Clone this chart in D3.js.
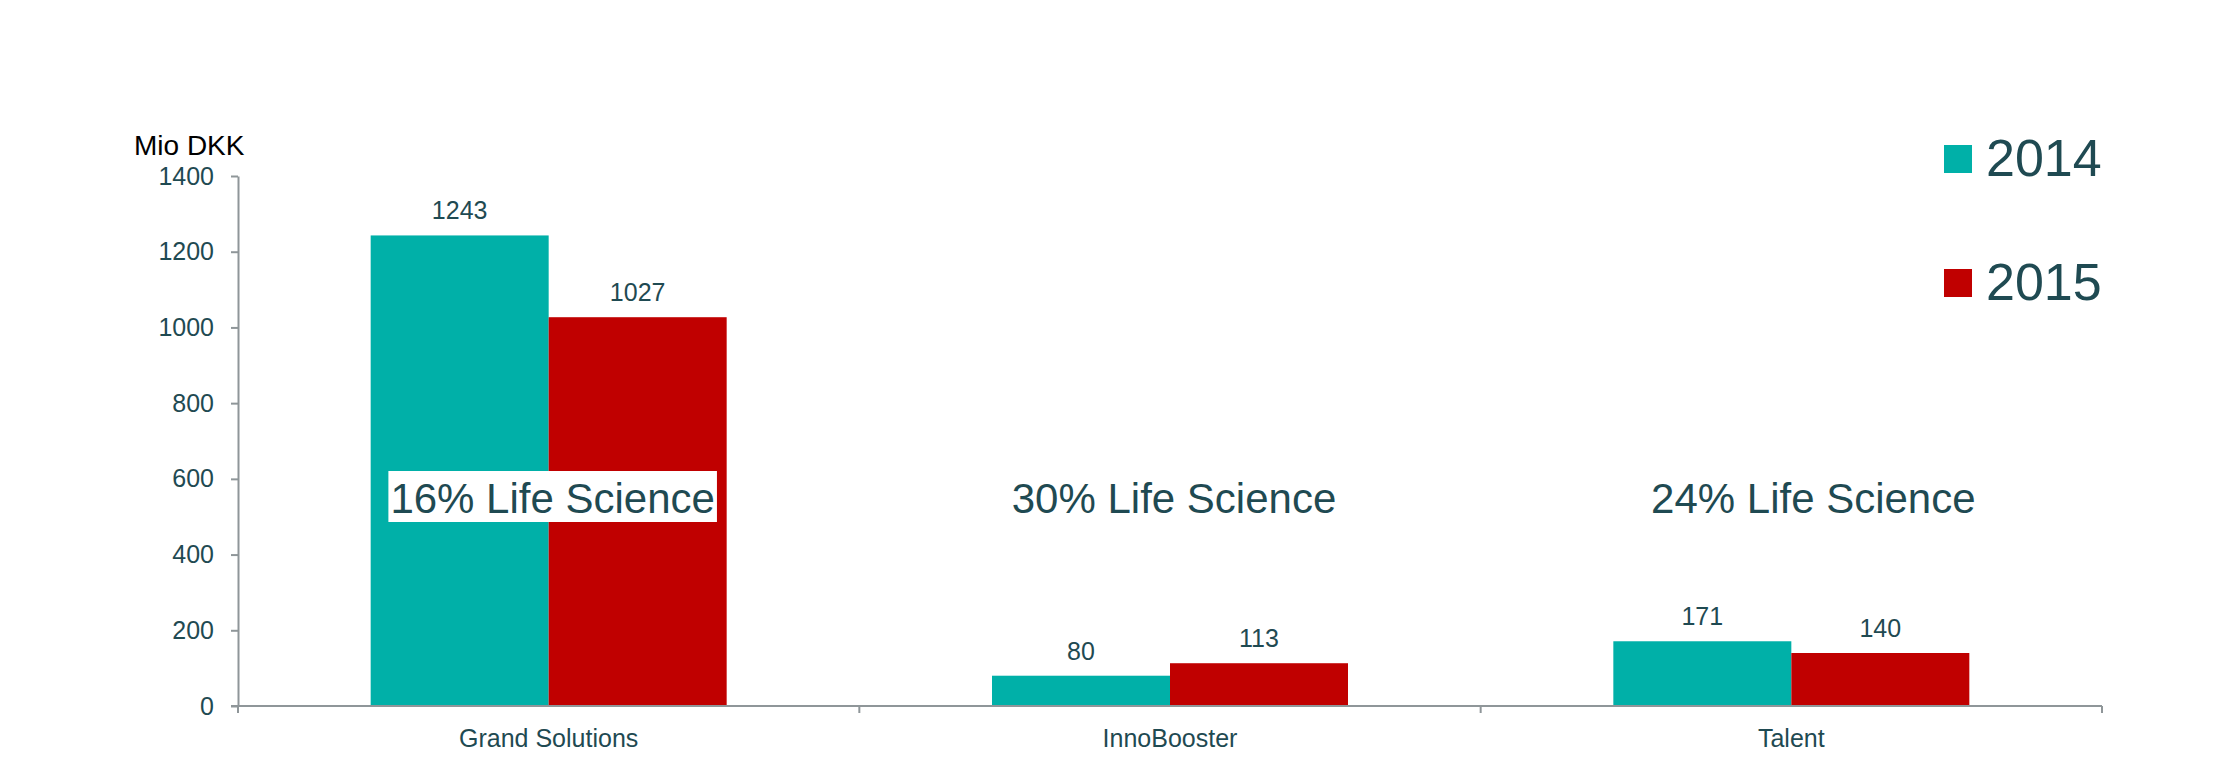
<!DOCTYPE html>
<html>
<head>
<meta charset="utf-8">
<script src="https://cdn.jsdelivr.net/npm/d3@7"></script>
<style>
  html, body { margin: 0; padding: 0; background: #fff; }
  svg { display: block; font-family: "Liberation Sans", Arial, sans-serif; }
</style>
</head>
<body>
<svg id="chart" width="2223" height="782"></svg>
<script>
const categories = ["Grand Solutions", "InnoBooster", "Talent"];
const seriesNames = ["2014", "2015"];
const values2014 = [1243, 80, 171];
const values2015 = [1027, 113, 140];
const lifeScienceLabels = ["16% Life Science", "30% Life Science", "24% Life Science"];
const yTicks = [0, 200, 400, 600, 800, 1000, 1200, 1400];
const colors = ["#00B0A8", "#C00000"];

const textColor = "#1F4A52";
const axisColor = "#8F9699";

const svg = d3.select("#chart");
const plotLeft = 238, plotRight = 2102, plotTop = 176, plotBottom = 706;
const labelShift = [4, 4, 22];

const x = d3.scaleBand().domain(categories).range([plotLeft, plotRight]).padding(0);
const y = d3.scaleLinear().domain([0, 1400]).range([plotBottom, plotTop]);
const barW = 178;
const inner = d3.scaleBand().domain(seriesNames).range([-barW, barW]).padding(0);

const seriesValues = [values2014, values2015];

// bars
seriesNames.forEach((s, si) => {
  svg.append("g").selectAll("rect")
    .data(categories)
    .join("rect")
    .attr("x", (c) => x(c) + x.bandwidth() / 2 + inner(s))
    .attr("y", (c, i) => y(seriesValues[si][i]))
    .attr("width", inner.bandwidth())
    .attr("height", (c, i) => y(0) - y(seriesValues[si][i]))
    .attr("fill", colors[si]);
  svg.append("g").selectAll("text")
    .data(categories)
    .join("text")
    .attr("x", (c) => x(c) + x.bandwidth() / 2 + inner(s) + inner.bandwidth() / 2)
    .attr("y", (c, i) => y(seriesValues[si][i]) - 16)
    .attr("text-anchor", "middle")
    .attr("font-size", 25)
    .attr("fill", textColor)
    .text((c, i) => seriesValues[si][i]);
});

// y axis
const yAxis = d3.axisLeft(y).tickValues(yTicks).tickFormat(d3.format("d"))
  .tickSize(7).tickPadding(17).tickSizeOuter(0);
const gy = svg.append("g").attr("transform", `translate(${plotLeft},0)`).call(yAxis);
gy.select(".domain").attr("stroke", axisColor).attr("stroke-width", 2);
gy.selectAll(".tick line").attr("stroke", axisColor).attr("stroke-width", 2);
gy.selectAll(".tick text").attr("font-size", 25).attr("fill", textColor)
  .attr("font-family", "Liberation Sans, Arial, sans-serif");

// x axis
const gx = svg.append("g").attr("transform", `translate(0,${plotBottom})`);
gx.append("line").attr("x1", plotLeft - 7).attr("x2", plotRight).attr("y1", 0).attr("y2", 0)
  .attr("stroke", axisColor).attr("stroke-width", 2);
const boundaries = categories.map(c => x(c)).concat([plotRight]);
gx.selectAll("line.b").data(boundaries).join("line").attr("class", "b")
  .attr("x1", d => d).attr("x2", d => d).attr("y1", 0).attr("y2", 7)
  .attr("stroke", axisColor).attr("stroke-width", 2);
gx.selectAll("text").data(categories).join("text")
  .attr("x", c => x(c) + x.bandwidth() / 2)
  .attr("y", 41)
  .attr("text-anchor", "middle")
  .attr("font-size", 25)
  .attr("fill", textColor)
  .text(c => c);

// y axis title
svg.append("text").attr("x", 134).attr("y", 155)
  .attr("font-size", 28).attr("fill", "#000").text("Mio DKK");

// life science labels
categories.forEach((c, i) => {
  const cx = x(c) + x.bandwidth() / 2 + labelShift[i];
  const t = svg.append("text")
    .attr("x", cx).attr("y", 513)
    .attr("text-anchor", "middle")
    .attr("font-size", 42)
    .attr("fill", textColor)
    .text(lifeScienceLabels[i]);
  if (i === 0) {
    const bb = t.node().getBBox();
    svg.insert("rect", function() { return t.node(); })
      .attr("x", bb.x - 2).attr("y", 471)
      .attr("width", bb.width + 4).attr("height", 51)
      .attr("fill", "#fff");
  }
});

// legend
const legend = svg.append("g");
seriesNames.forEach((s, i) => {
  const ly = 145 + i * 124;
  legend.append("rect").attr("x", 1944).attr("y", ly).attr("width", 28).attr("height", 28)
    .attr("fill", colors[i]);
  legend.append("text").attr("x", 1986).attr("y", ly + 31)
    .attr("font-size", 52).attr("fill", textColor).text(s);
});
</script>
</body>
</html>
